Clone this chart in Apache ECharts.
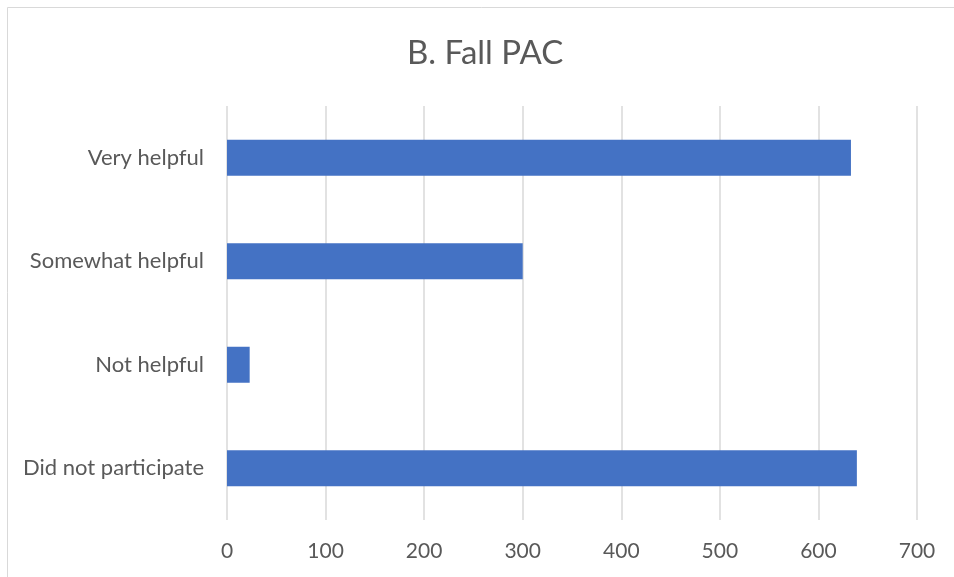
<!DOCTYPE html>
<html>
<head>
<meta charset="utf-8">
<script src="https://cdn.jsdelivr.net/npm/echarts@6/dist/echarts.min.js"></script>
<style>
  html, body { margin: 0; padding: 0; background: #fff; }
  #chart { width: 954px; height: 577px; }
</style>
</head>
<body>
<div id="chart"></div>
<script>
// Survey responses for the fall PAC session
const categories = ['Did not participate', 'Not helpful', 'Somewhat helpful', 'Very helpful'];
const responses = [639, 23, 300, 633];
const xTicks = [0, 100, 200, 300, 400, 500, 600, 700];

const chart = echarts.init(document.getElementById('chart'), null, { renderer: 'canvas' });
const textColor = '#595959';
const fontFamily = 'Lato, "Open Sans", sans-serif';

chart.setOption({
  animation: false,
  backgroundColor: '#ffffff',
  title: {
    text: 'B. Fall PAC',
    left: 402,
    top: 32,
    textStyle: { color: textColor, fontSize: 33, fontWeight: 'normal', fontFamily: fontFamily }
  },
  graphic: [{
    type: 'rect',
    shape: { x: 7.5, y: 7.5, width: 1000, height: 1000 },
    style: { fill: 'none', stroke: '#d9d9d9', lineWidth: 1 },
    silent: true
  }],
  grid: { left: 227, right: 37, top: 106, bottom: 57, containLabel: false },
  xAxis: {
    type: 'value',
    min: xTicks[0],
    max: xTicks[xTicks.length - 1],
    interval: xTicks[1] - xTicks[0],
    axisLine: { show: false },
    axisTick: { show: false },
    splitLine: { show: true, lineStyle: { color: '#d9d9d9', width: 1.5 } },
    axisLabel: { color: textColor, fontSize: 21, fontFamily: fontFamily, margin: 21 }
  },
  yAxis: {
    type: 'category',
    data: categories,
    axisLine: { show: false },
    axisTick: { show: false },
    axisLabel: { color: textColor, fontSize: 22, fontFamily: fontFamily, margin: 23 }
  },
  series: [{
    type: 'bar',
    data: responses,
    barWidth: 36,
    itemStyle: { color: '#4472c4' }
  }]
});
</script>
</body>
</html>
